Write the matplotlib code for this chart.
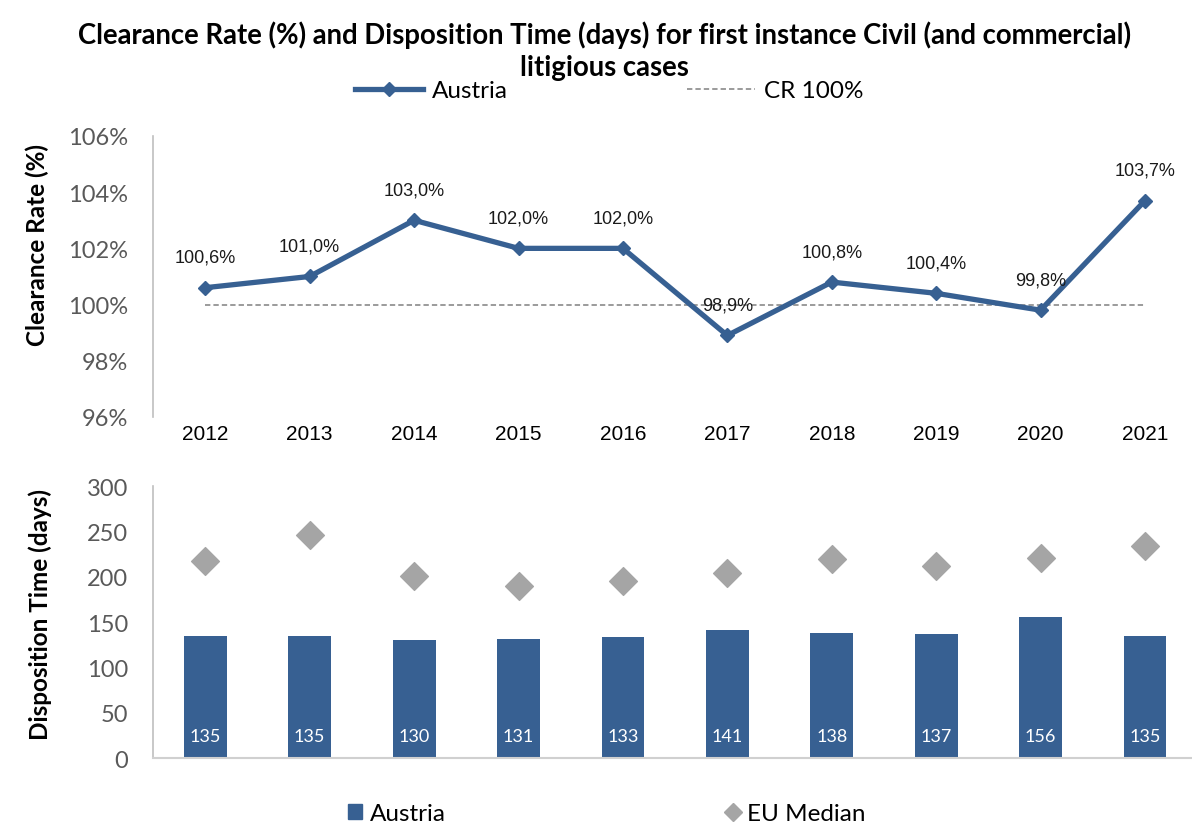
import numpy as np
import matplotlib
matplotlib.use("Agg")
import matplotlib.pyplot as plt
from matplotlib.lines import Line2D
from matplotlib.patches import Patch

# data
years = ["2012", "2013", "2014", "2015", "2016", "2017", "2018", "2019", "2020", "2021"]
clearance_rate = [100.6, 101.0, 103.0, 102.0, 102.0, 98.9, 100.8, 100.4, 99.8, 103.7]
cr_labels = ["100,6%", "101,0%", "103,0%", "102,0%", "102,0%", "98,9%", "100,8%", "100,4%", "99,8%", "103,7%"]
cr_reference = 100
dt_austria = [135, 135, 130, 131, 133, 141, 138, 137, 156, 135]
dt_eu_median = [217, 246, 201, 190, 195, 204, 219, 212, 221, 234]

blue = "#376092"
grey_marker = "#A5A5A5"
calib = "Lato"
arial = "Liberation Sans"

x = np.arange(len(years))

fig = plt.figure(figsize=(11.92, 8.28), dpi=100)
ax1 = fig.add_axes([0.1284, 0.4952, 0.8716, 0.3394])
ax2 = fig.add_axes([0.1284, 0.0833, 0.8716, 0.3285])

# ---- top panel: clearance rate ----
ax1.plot(x, [cr_reference] * len(x), color="#808080", lw=1.1, ls=(0, (3.5, 2)))
ax1.plot(x, clearance_rate, color=blue, lw=3.8, marker="D", ms=7.5, zorder=3)
for xi, v, lab in zip(x, clearance_rate, cr_labels):
    ax1.annotate(lab, (xi, v), xytext=(0, 22), textcoords="offset points",
                 ha="center", va="center", fontsize=13, family=arial, color="#1a1a1a")

ax1.set_xlim(-0.5, 9.45)
ax1.set_ylim(96, 106)
ax1.set_yticks([96, 98, 100, 102, 104, 106])
ax1.set_yticklabels(["96%", "98%", "100%", "102%", "104%", "106%"])
ax1.set_xticks(x)
ax1.set_xticklabels(years)
for s in ["top", "right", "bottom"]:
    ax1.spines[s].set_visible(False)
ax1.spines["left"].set_color("#BFBFBF")
ax1.spines["left"].set_linewidth(1.2)
ax1.tick_params(axis="y", length=0, pad=18, labelsize=17, labelcolor="#595959")
ax1.tick_params(axis="x", length=0, pad=5, labelsize=15)
for t in ax1.get_yticklabels():
    t.set_family(calib)
for t in ax1.get_xticklabels():
    t.set_family(arial)
ax1.set_ylabel("Clearance Rate (%)", fontsize=17.5, fontweight="bold", family=calib)
ax1.yaxis.set_label_coords(-0.1, 0.614)

# ---- bottom panel: disposition time ----
ax2.bar(x, dt_austria, width=0.41, color=blue, zorder=2)
for xi, v in zip(x, dt_austria):
    ax2.annotate(str(v), (xi, 0), xytext=(0, 16), textcoords="offset points",
                 ha="center", va="center", fontsize=13, family=calib, color="white")
ax2.scatter(x, dt_eu_median, marker="D", s=200, color=grey_marker, zorder=3)

ax2.set_xlim(-0.5, 9.45)
ax2.set_ylim(0, 300)
ax2.set_yticks(np.arange(0, 301, 50))
ax2.set_xticks([])
for s in ["top", "right"]:
    ax2.spines[s].set_visible(False)
ax2.spines["left"].set_color("#BFBFBF")
ax2.spines["bottom"].set_color("#D0D0D0")
ax2.spines["left"].set_linewidth(1.2)
ax2.spines["bottom"].set_linewidth(1.5)
ax2.tick_params(axis="y", length=0, pad=18, labelsize=17, labelcolor="#595959")
for t in ax2.get_yticklabels():
    t.set_family(calib)
ax2.set_ylabel("Disposition Time (days)", fontsize=17.5, fontweight="bold", family=calib)
ax2.yaxis.set_label_coords(-0.097, 0.53)

# ---- title and legends ----
fig.text(0.507, 0.958, "Clearance Rate (%) and Disposition Time (days) for first instance Civil (and commercial)",
         ha="center", va="center", fontsize=19.8, fontweight="bold", family=calib)
fig.text(0.507, 0.918, "litigious cases", ha="center", va="center",
         fontsize=19.8, fontweight="bold", family=calib)

top_handles = [Line2D([], [], color=blue, lw=3.8, marker="D", ms=7.5),
               Line2D([], [], color="#808080", lw=1.1, ls=(0, (3.5, 2)))]
fig.legend(top_handles, ["Austria", "CR 100%"], loc="center", bbox_to_anchor=(0.511, 0.889),
           ncol=2, frameon=False, prop={"family": calib, "size": 17.5},
           handlelength=2.8, handletextpad=0.35, columnspacing=7.4, borderaxespad=0)

bottom_handles = [Patch(color=blue),
                  Line2D([], [], ls="none", marker="D", ms=9, color=grey_marker)]
fig.legend(bottom_handles, ["Austria", "EU Median"], loc="center", bbox_to_anchor=(0.509, 0.016),
           ncol=2, frameon=False, prop={"family": calib, "size": 17.5},
           handlelength=0.6, handleheight=0.6, handletextpad=0.3, columnspacing=11.5, borderaxespad=0)

fig.savefig("out.png", dpi=100)
